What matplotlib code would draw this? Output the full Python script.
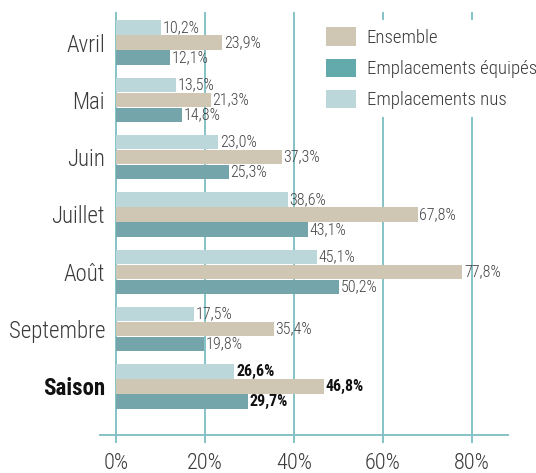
import matplotlib
matplotlib.use("Agg")
import matplotlib.pyplot as plt
import matplotlib.font_manager as fm
from matplotlib.patches import Patch
import numpy as np

categories = ['Avril', 'Mai', 'Juin', 'Juillet', 'Août', 'Septembre', 'Saison']
nus = [10.2, 13.5, 23.0, 38.6, 45.1, 17.5, 26.6]
ensemble = [23.9, 21.3, 37.3, 67.8, 77.8, 35.4, 46.8]
equipes = [12.1, 14.8, 25.3, 43.1, 50.2, 19.8, 29.7]
xticks = [0, 20, 40, 60, 80]
xticklabels = ['0%', '20%', '40%', '60%', '80%']
legend_labels = ['Ensemble', 'Emplacements équipés', 'Emplacements nus']

c_nus = '#bcd7d9'
c_ens = '#cfc7b4'
c_equ = '#73a5ab'
c_equ_leg = '#62aaab'
c_grid = '#84c2c6'
c_text = '#3a3a3a'

names = {f.name for f in fm.fontManager.ttflist}
family = 'DejaVu Sans'
for cand in ['Roboto Condensed', 'Liberation Sans Narrow', 'Roboto']:
    if cand in names:
        family = cand
        break
weights = [f.weight for f in fm.fontManager.ttflist if f.name == family]
light = 'light' if any(w in (300, 'light') for w in weights) else 'normal'
plt.rcParams['font.family'] = [family, 'DejaVu Sans']

W, H = 536, 473
fig = plt.figure(figsize=(W / 100, H / 100), dpi=100)
ax = fig.add_axes([100 / W, (H - 435) / H, 408 / W, (435 - 12) / H])

y = np.arange(len(categories))
step = 0.262
bh = 0.255
b1 = ax.barh(y - step, nus, height=bh, color=c_nus, zorder=3)
b2 = ax.barh(y, ensemble, height=bh, color=c_ens, zorder=3)
b3 = ax.barh(y + step, equipes, height=bh, color=c_equ, zorder=3)

def fmt(v):
    return f"{v:.1f}".replace('.', ',') + '%'

last = len(categories) - 1
for bars, vals in [(b1, nus), (b2, ensemble), (b3, equipes)]:
    for i, (rect, v) in enumerate(zip(bars, vals)):
        bold = (i == last)
        ax.annotate(fmt(v), (rect.get_width(), rect.get_y() + rect.get_height() / 2),
                    xytext=(1.2, 0), textcoords='offset points', va='center', ha='left',
                    fontsize=11.5, color='#111111' if bold else '#444444',
                    fontweight='bold' if bold else light, zorder=4)

ax.set_xlim(-3.6, 88.1)
ax.set_ylim(last + 0.846, -0.532)
ax.set_xticks(xticks)
ax.set_xticklabels(xticklabels, fontsize=16, color=c_text, fontweight=light)
ax.set_yticks(y)
ax.set_yticklabels(categories, fontsize=16.5, color=c_text, fontweight=light)
ax.get_yticklabels()[last].set_fontweight('bold')
ax.get_yticklabels()[last].set_color('#111111')
ax.tick_params(axis='y', length=0, pad=-3.6)
ax.tick_params(axis='x', length=5.8, width=1.4, color=c_grid, direction='out', pad=7.5)
ax.grid(axis='x', color=c_grid, linewidth=1.4, zorder=1)
ax.set_axisbelow(True)
for s in ['top', 'right', 'left']:
    ax.spines[s].set_visible(False)
ax.spines['bottom'].set_color(c_grid)
ax.spines['bottom'].set_linewidth(1.4)

handles = [Patch(facecolor=c_ens), Patch(facecolor=c_equ_leg), Patch(facecolor=c_nus)]
leg = ax.legend(handles, legend_labels, loc='upper left',
                bbox_to_anchor=(318 / W, 1 - 20 / H), bbox_transform=fig.transFigure,
                frameon=True, fancybox=False, facecolor='white', edgecolor='none', framealpha=1,
                prop={'size': 13.5, 'weight': light}, handlelength=1.65, handleheight=1.12,
                labelspacing=0.62, handletextpad=0.55, borderpad=0.4, borderaxespad=0)
for t in leg.get_texts():
    t.set_color(c_text)
leg.set_zorder(5)

fig.savefig('out.png', dpi=100)
